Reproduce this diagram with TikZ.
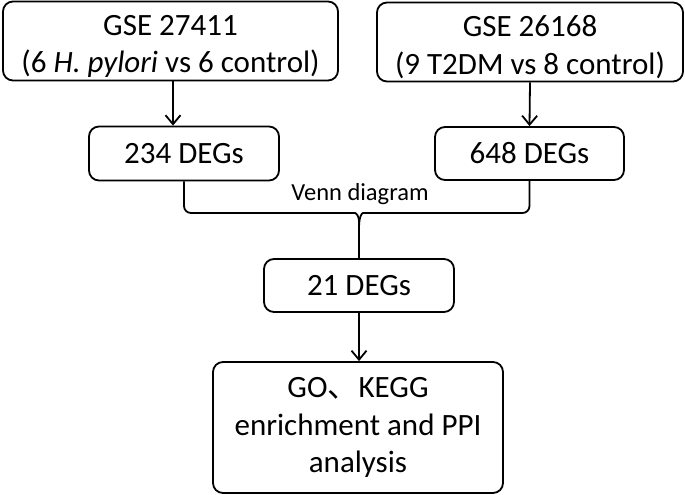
\documentclass[tikz,border=0pt]{standalone}
\usepackage{fontspec}
\setmainfont{Carlito}
\newfontfamily\cjkfont{Noto Sans CJK SC}
\usetikzlibrary{arrows.meta}

\begin{document}
\begin{tikzpicture}[x=1pt, y=-1pt, line width=1.8pt,
    box/.style={draw, rounded corners=10pt, align=center, inner sep=0pt,
      font=\fontsize{31}{37.5}\selectfont},
    >={Straight Barb[length=9pt,width=15pt]}]
    \useasboundingbox (0,0) rectangle (685,495);

    \node[box, minimum width=335pt, minimum height=79pt] (gse1) at (170.5,41) {\rule{0pt}{31pt}GSE 27411\\(6 \textit{H. pylori} vs 6 control)};
    \node[box, minimum width=306pt, minimum height=79pt] (gse2) at (530,42) {\rule{0pt}{31pt}GSE 26168\\(9 T2DM vs 8 control)};

    \node[box, minimum width=190pt, minimum height=54pt] (deg1) at (184,153.5) {234 DEGs};
    \node[box, minimum width=189pt, minimum height=53pt] (deg2) at (529.5,153.5) {648 DEGs};
    \draw (gse1.south -| 173,0) edge[->] (deg1.north -| 173,0);
    \draw (gse2.south) edge[->] (deg2.north);

    \node[font=\fontsize{24.5}{30}\selectfont, anchor=base] (venn) at (360,200) {Venn diagram};
    \node[box, minimum width=190pt, minimum height=53pt] (deg21) at (359,285.5) {21 DEGs};
    \draw[rounded corners=7pt] (deg1.south) |- (348,213) .. controls (356,213) and (359,216) .. (359,228) -- (deg21.north);
    \draw[rounded corners=7pt] (deg2.south) |- (370,213) .. controls (362,213) and (359,216) .. (359,228);

    \node[box, minimum width=290pt, minimum height=131pt] (enrich) at (358,427.5) {GO{\cjkfont 、}KEGG\\enrichment and PPI\\analysis};
    \draw (deg21.south) edge[->] (deg21.south |- enrich.north);
\end{tikzpicture}
\end{document}
